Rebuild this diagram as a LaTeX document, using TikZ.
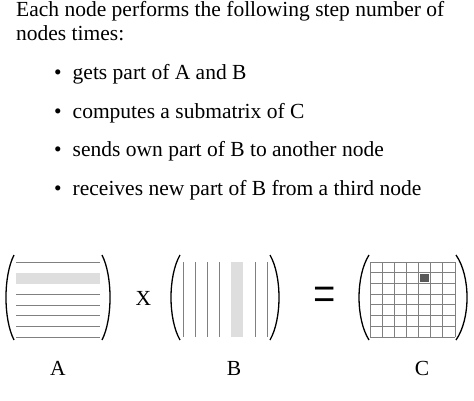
\documentclass[tikz,border=0pt]{standalone}
\usepackage{fontspec}
\setmainfont{Liberation Serif}
\usepackage{graphicx}
\usetikzlibrary{positioning}
\begin{document}
\begin{tikzpicture}[x=1pt,y=-1pt,font=\fontsize{21.5}{25}\selectfont,
		txt/.style={anchor=base west,inner sep=0pt},
		item/.style={txt},
		paren/.style={line width=1.3pt},
		rule/.style={draw=black!50,line width=0.9pt},
		band/.style={fill=black!13},
		lbl/.style={anchor=base,inner sep=0pt}]
		\useasboundingbox (0,0) rectangle (474,401);
		
		\node[txt] (head1) at (16,16.5) {Each node performs the following step number of};
		\node[txt] (head2) at (16,41) {nodes times:};
		\node[item] (gets) at (54,80) {\textbullet\hskip11pt gets part of A and B};
		\node[item] (computes) at (54,118.5) {\textbullet\hskip11pt computes a submatrix of C};
		\node[item] (sends) at (54,157) {\textbullet\hskip11pt sends own part of B to another node};
		\node[item] (receives) at (54,195.5) {\textbullet\hskip11pt receives new part of B from a third node};
		
		% matrix A
		\fill[band] (16,272.75) rectangle (100,283.5);
		\foreach \k in {0,3,4,5,6,7}
			\draw[rule] (16,262+10.75*\k) -- (100,262+10.75*\k);
		\draw[paren] (14,255) .. controls (3.3,276) and (3.3,319) .. (14,340);
		\draw[paren] (102,255) .. controls (112.7,276) and (112.7,319) .. (102,340);
		
		% matrix B
		\fill[band] (231,262) rectangle (243,337);
		\foreach \k in {0,1,2,3,6,7}
			\draw[rule] (183+12*\k,262) -- (183+12*\k,337);
		\draw[paren] (180,255) .. controls (168,276) and (168,319) .. (180,340);
		\draw[paren] (270,255) .. controls (282,276) and (282,319) .. (270,340);
		
		% matrix C
		\foreach \k in {0,...,7} {
			\draw[rule] (370+85/7*\k,262) -- ++(0,75);
			\draw[rule] (370,262+75/7*\k) -- ++(85,0);
		}
		\fill[black!65] (370+85/7*4+1.3,262+75/7+1.3) rectangle (370+85/7*5-1.3,262+75/7*2-1.3);
		\draw[paren] (369,255) .. controls (355.7,276) and (355.7,319) .. (369,340);
		\draw[paren] (456,255) .. controls (470.7,276) and (470.7,319) .. (456,340);
		
		\node[lbl] (times) at (143.5,305) {X};
		\node[lbl] (equals) at (325,313) {\scalebox{1.1}[1.6]{\fontsize{36}{36}\selectfont =}};
		\node[lbl] (labA) at (58,375) {A};
		\node[lbl] (labB) at (234,375) {B};
		\node[lbl] (labC) at (422,375) {C};
\end{tikzpicture}
\end{document}
